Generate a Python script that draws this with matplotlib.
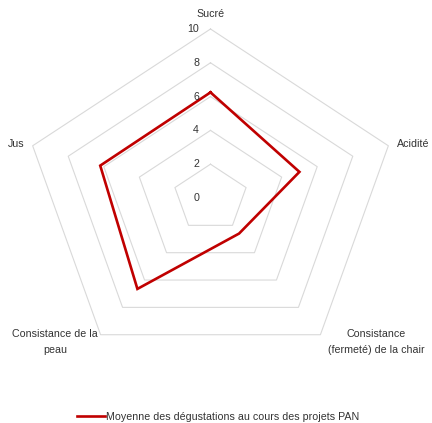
import numpy as np
import matplotlib
matplotlib.use("Agg")
import matplotlib.pyplot as plt

categories = ["Sucré", "Acidité", "Consistance\n(fermeté) de la chair", "Consistance de la\npeau", "Jus"]
values = [6.25, 5.0, 2.6, 6.65, 6.2]
rticks = [0, 2, 4, 6, 8, 10]
series_name = "Moyenne des dégustations au cours des projets PAN"

W, H = 432, 423
fig = plt.figure(figsize=(W / 100, H / 100), dpi=100)
ax = fig.add_axes([0, 0, 1, 1])
ax.set_axis_off()

# pixel geometry (center and per-unit scale, slightly stretched horizontally)
cx, cy = 210.5, 198.0
ux, uy = 18.7, 16.9
ax.set_xlim(-cx / ux, (W - cx) / ux)
ax.set_ylim(-(H - cy) / uy, cy / uy)
ax.set_aspect("auto")

def px(x, y):
    return (x - cx) / ux, (cy - y) / uy

n = len(categories)
theta = np.arange(n) * 2 * np.pi / n

def xy(r, th):
    return r * np.sin(th), r * np.cos(th)

grid_color = "#d9d9d9"
for r in rticks[1:]:
    th = np.append(theta, theta[0])
    gx, gy = xy(r, th)
    ax.plot(gx, gy, color=grid_color, lw=0.8, zorder=1)

v = np.append(values, values[0])
th = np.append(theta, theta[0])
lx, ly = xy(v, th)
ax.plot(lx, ly, color="#c00000", lw=1.9, zorder=3, solid_joinstyle="miter")

fs = 7.7
font = dict(family=["Liberation Sans", "DejaVu Sans"], fontsize=fs, color="#333333")
for r in rticks:
    x0, _ = px(199, 0)
    ax.text(x0, r, str(r), ha="right", va="center", **font)

label_pos = [
    (211, 14, "center", "center"),
    (397, 144, "left", "center"),
    (376, 342, "center", "center"),
    (55, 342, "center", "center"),
    (25, 144, "right", "center"),
]
for lab, (x, y, ha, va) in zip(categories, label_pos):
    dx, dy = px(x, y)
    ax.text(dx, dy, lab, ha=ha, va=va, multialignment="center", linespacing=1.65, **font)

(line,) = ax.plot([], [], color="#c00000", lw=1.9)
leg = fig.legend([line], [series_name], loc="center",
                 bbox_to_anchor=(218 / W, 1 - 417 / H), frameon=False,
                 handlelength=2.6, handletextpad=0.1,
                 prop=dict(family="Liberation Sans", size=fs))
for t in leg.get_texts():
    t.set_color("#333333")

fig.savefig("out.png", dpi=100)
